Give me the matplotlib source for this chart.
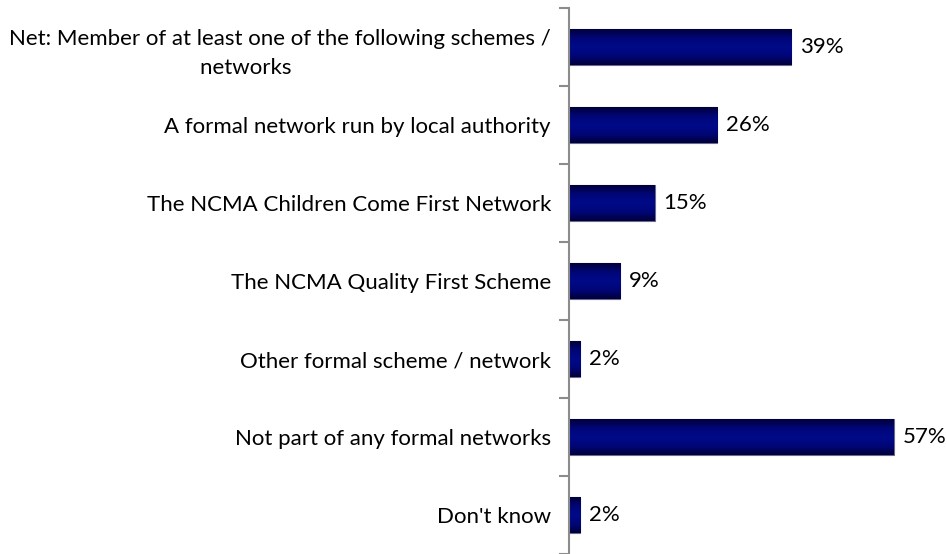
import numpy as np
import matplotlib
matplotlib.use('Agg')
import matplotlib.pyplot as plt
from matplotlib.colors import LinearSegmentedColormap

categories = [
    'Net: Member of at least one of the following schemes /\nnetworks' + ' ' * 12,
    'A formal network run by local authority',
    'The NCMA Children Come First Network',
    'The NCMA Quality First Scheme',
    'Other formal scheme / network',
    'Not part of any formal networks',
    "Don't know",
]
values = [39, 26, 15, 9, 2, 57, 2]
value_labels = ['39%', '26%', '15%', '9%', '2%', '57%', '2%']

plt.rcParams['font.family'] = ['Lato', 'DejaVu Sans']

fig = plt.figure(figsize=(9.47, 5.54), dpi=100)
ax = fig.add_axes([569 / 947, 0.0, 368 / 947, 1 - 8 / 554])

n = len(categories)
ypos = np.arange(n)
bar_h = 0.46

bars = ax.barh(ypos, values, height=bar_h, color='#000a80',
               edgecolor='#6a6a8a', linewidth=0.8, zorder=2)

# vertical shading: dark edges, brighter middle
cmap = LinearSegmentedColormap.from_list(
    'bar', ['#00003a', '#000678', '#000a88', '#000678', '#00003a'])
grad = np.linspace(0, 1, 64).reshape(-1, 1)
for b in bars:
    x0, y0 = b.get_x(), b.get_y()
    w, h = b.get_width(), b.get_height()
    im = ax.imshow(grad, cmap=cmap, aspect='auto', zorder=2.5,
                   extent=(x0, x0 + w, y0 + h, y0), interpolation='bicubic')
    im.set_clip_path(b)

for y, v, lab in zip(ypos, values, value_labels):
    ax.text(v + 1.5, y, lab, va='center', ha='left', fontsize=16,
            color='#000000')

ax.set_xlim(0, 368 / 5.7)
ax.set_ylim(n - 0.5, -0.5)

ax.set_yticks(ypos)
ax.set_yticklabels(categories, fontsize=16, multialignment='center',
                   linespacing=1.55)
ax.set_yticks(np.arange(n + 1) - 0.5, minor=True)
ax.tick_params(axis='y', which='major', length=0, pad=13)
ax.tick_params(axis='y', which='minor', length=7, width=1.5, color='#8c8c8c',
               direction='out')
ax.set_xticks([])

for s in ['top', 'right', 'bottom']:
    ax.spines[s].set_visible(False)
ax.spines['left'].set_color('#8c8c8c')
ax.spines['left'].set_linewidth(1.5)

fig.savefig('out.png', dpi=100)
